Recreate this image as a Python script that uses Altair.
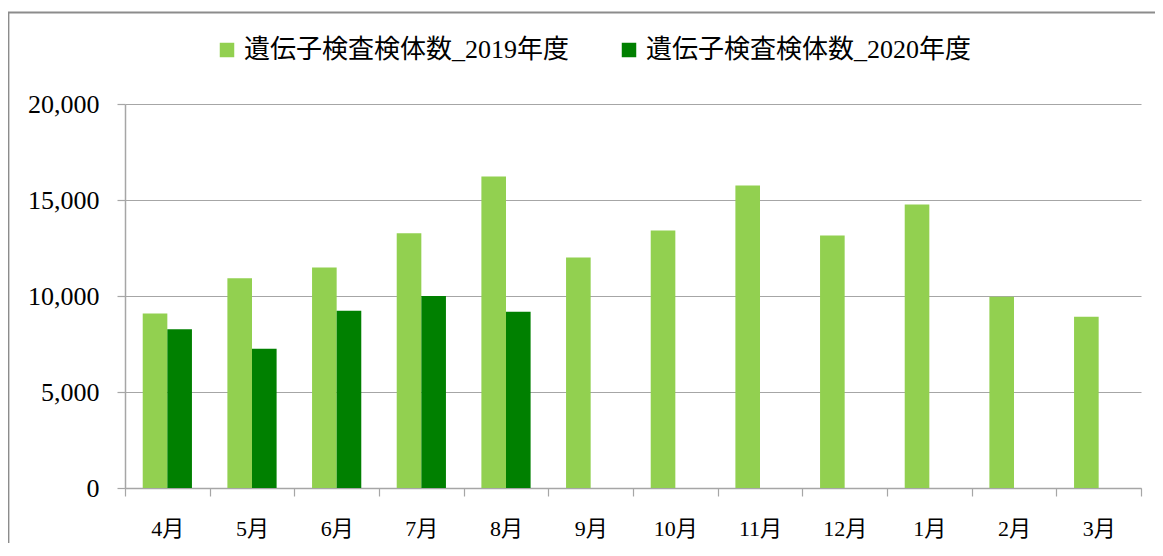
import altair as alt
import pandas as pd

months = ["4月", "5月", "6月", "7月", "8月", "9月", "10月", "11月", "12月", "1月", "2月", "3月"]
series_names = ["遺伝子検査検体数_2019年度", "遺伝子検査検体数_2020年度"]
values_2019 = [9090, 10920, 11480, 13270, 16230, 12000, 13410, 15750, 13150, 14770, 9960, 8920]
values_2020 = [8270, 7250, 9230, 10000, 9180, None, None, None, None, None, None, None]
colors = ["#92D050", "#008000"]
y_ticks = [0, 5000, 10000, 15000, 20000]

rows = []
for m, a, b in zip(months, values_2019, values_2020):
    rows.append({"month": m, "series": series_names[0], "value": a})
    if b is not None:
        rows.append({"month": m, "series": series_names[1], "value": b})
df = pd.DataFrame(rows)

W, H = 1016, 384
FONT = "Liberation Serif, Noto Sans CJK JP"
GRAY = "#A6A6A6"

bars = alt.Chart(df).mark_bar().encode(
    x=alt.X("month:N", sort=months,
            scale=alt.Scale(paddingInner=0, paddingOuter=0),
            axis=alt.Axis(title=None, labelAngle=0, tickBand="extent",
                          labelFont=FONT, labelFontSize=22, labelColor="#000",
                          labelPadding=22, tickSize=8, tickColor=GRAY,
                          domainColor=GRAY, domainWidth=1.5, tickWidth=1.2,
                          grid=False)),
    xOffset=alt.XOffset("series:N", sort=series_names,
                        scale=alt.Scale(domain=series_names, paddingInner=0, paddingOuter=0.72)),
    y=alt.Y("value:Q",
            scale=alt.Scale(domain=[0, 20000], nice=False),
            axis=alt.Axis(title=None, values=y_ticks, format=",d",
                          labelFont=FONT, labelFontSize=26, labelColor="#000",
                          labelPadding=18, tickSize=8, tickColor=GRAY,
                          domainColor=GRAY, domainWidth=1.5, tickWidth=1.2,
                          grid=True, gridColor=GRAY, gridWidth=1.2)),
    color=alt.Color("series:N", sort=series_names,
                    scale=alt.Scale(domain=series_names, range=colors),
                    legend=alt.Legend(title=None, orient="none", direction="horizontal",
                                      legendX=89, legendY=-67,
                                      symbolType="square", symbolSize=210,
                                      symbolStrokeWidth=0, labelFont=FONT,
                                      labelFontSize=26, labelColor="#000",
                                      labelLimit=0,
                                      labelOffset=4, columnPadding=46, padding=0)),
)

frame = alt.Chart(pd.DataFrame({"a": [0]})).mark_rect(
    fill=None, stroke="#8C8C8C", strokeWidth=1.8
).encode(
    x=alt.value(-116.5), x2=alt.value(W + 300),
    y=alt.value(-91.5), y2=alt.value(H + 300),
)

chart = alt.layer(bars, frame).properties(
    width=W, height=H,
    autosize=alt.AutoSizeParams(type="none"),
    padding={"left": 117, "top": 96, "right": 14, "bottom": 55},
).configure_view(stroke=None)

chart.save("out.html", embed_options={"renderer": "svg", "actions": False})
